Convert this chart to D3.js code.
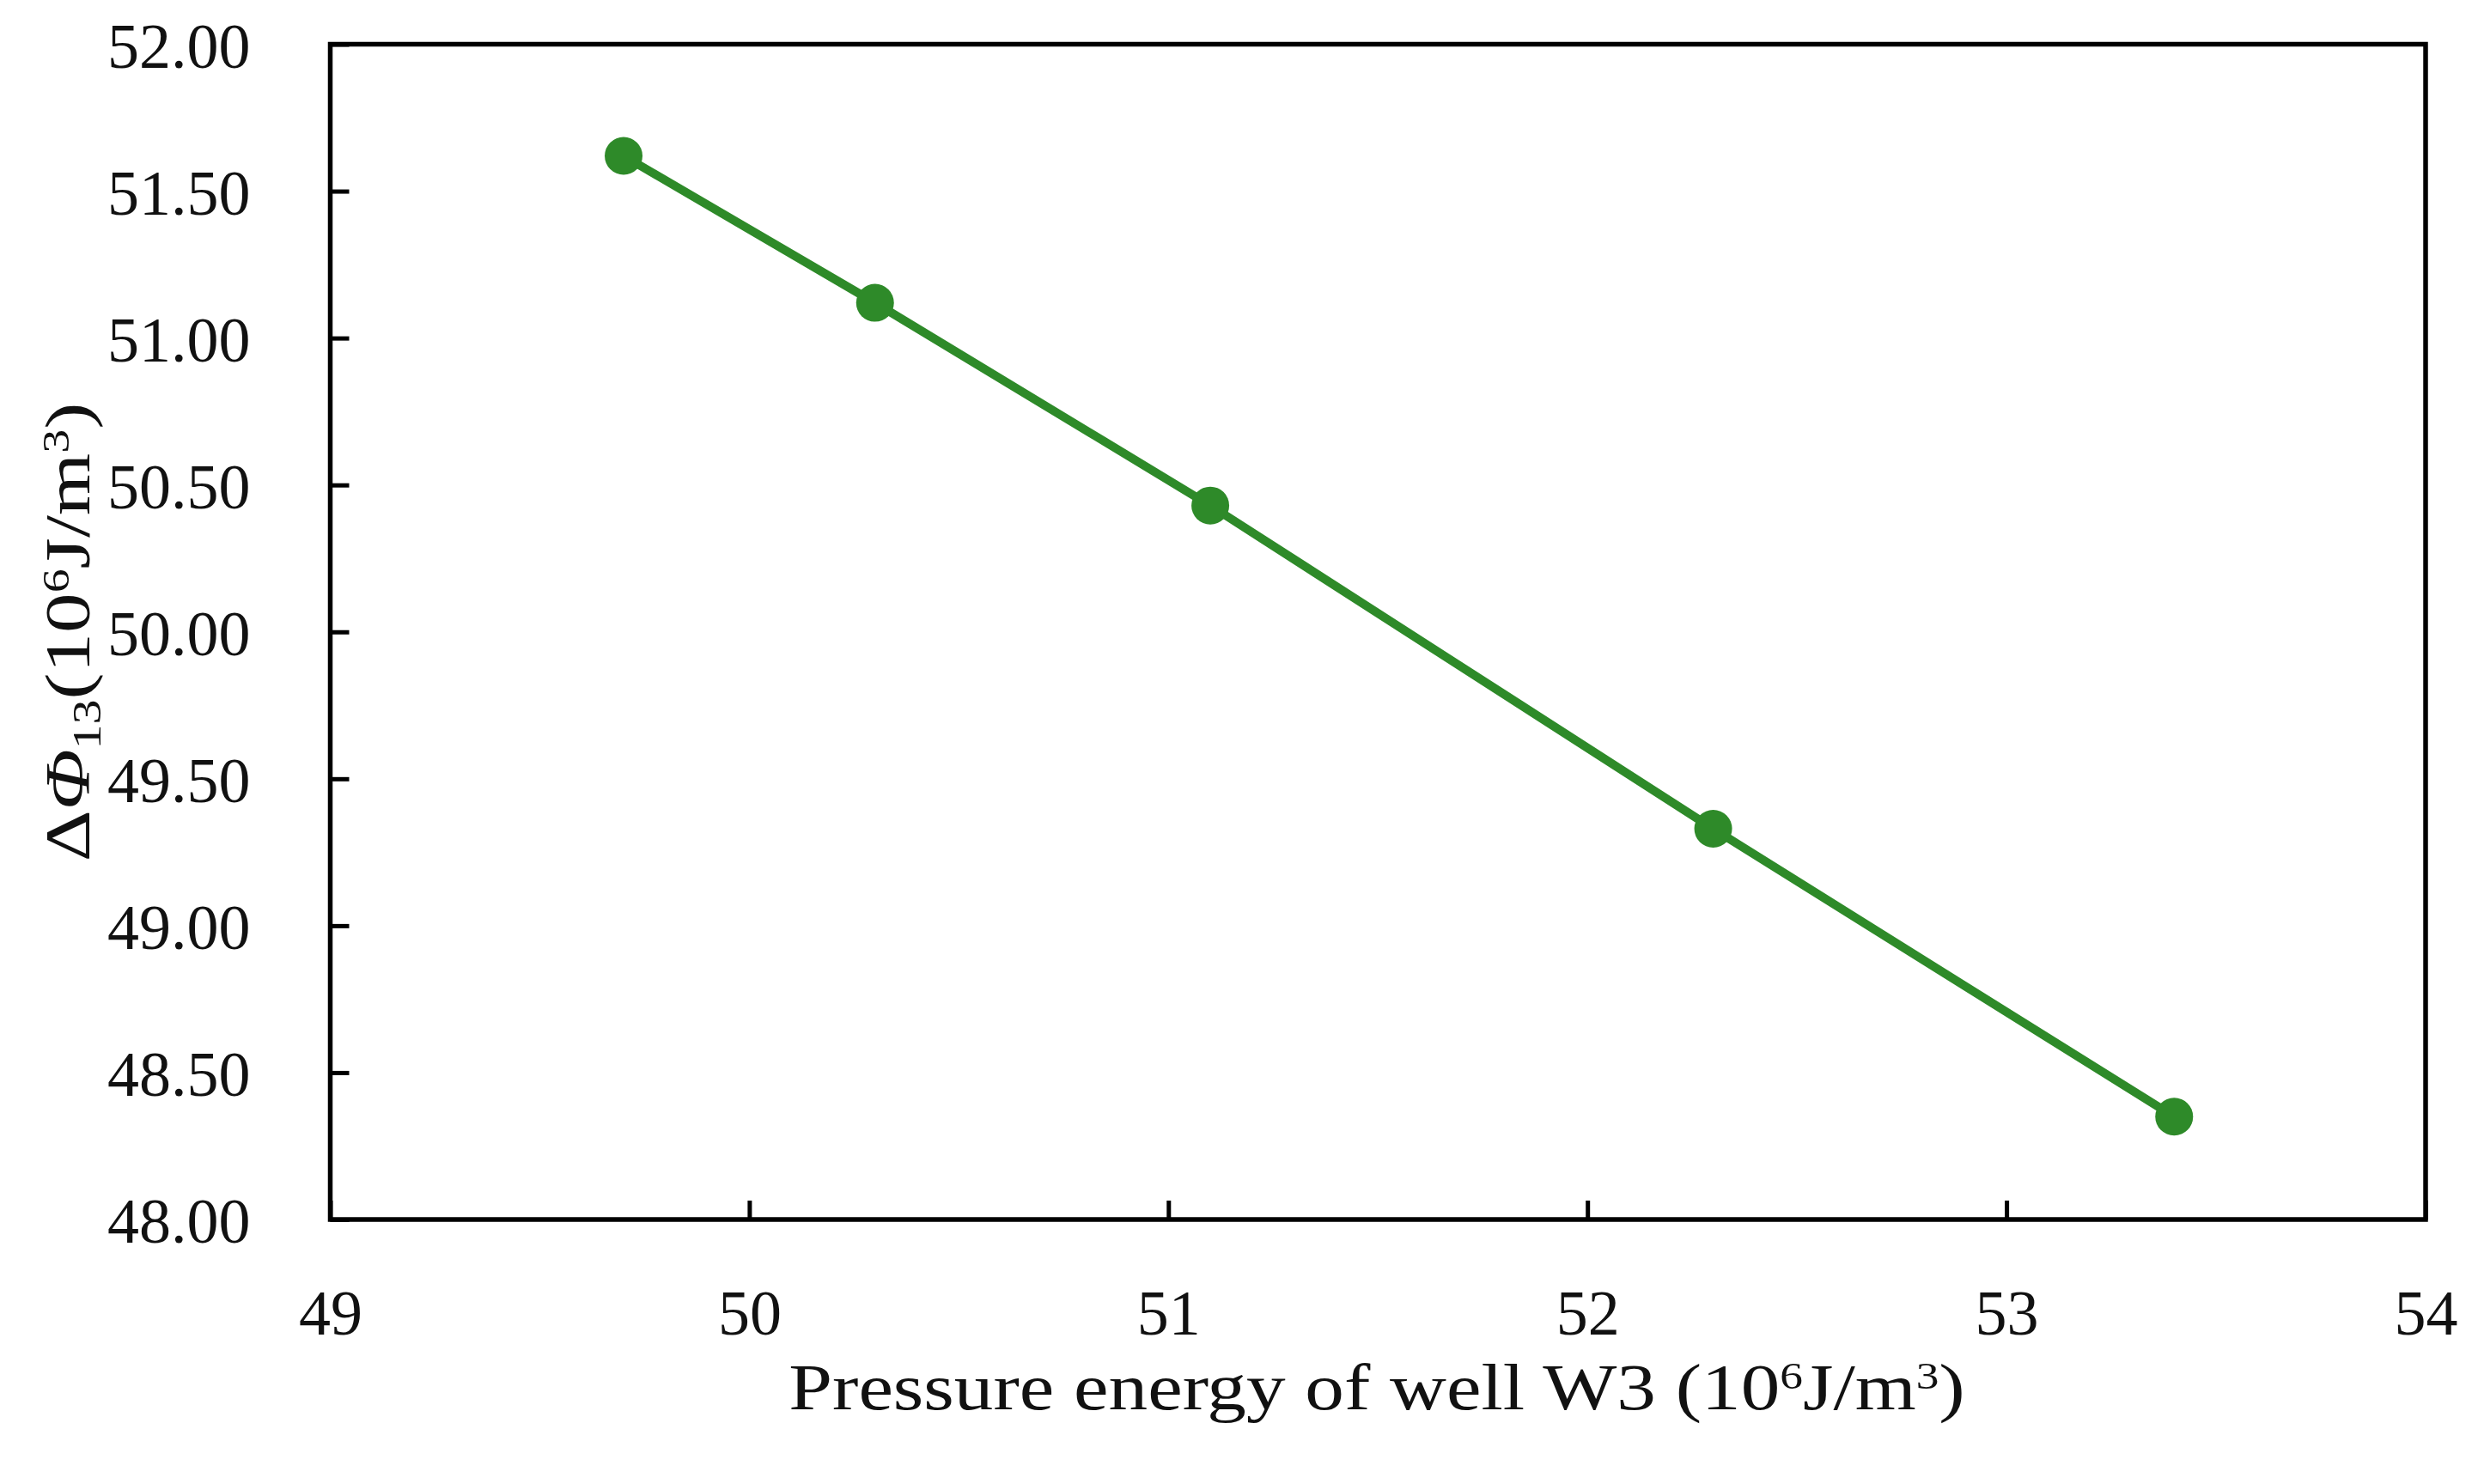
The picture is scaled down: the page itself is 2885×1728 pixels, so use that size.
<!DOCTYPE html>
<html><head><meta charset="utf-8">
<script src="https://cdn.jsdelivr.net/npm/d3@7"></script>
<style>
html,body{margin:0;padding:0;background:#fff;}
svg{display:block;}
text{font-family:"Liberation Serif","Times New Roman",serif;fill:#111;}
</style></head>
<body>
<svg id="chart" width="2885" height="1728"></svg>
<script>
const xValues = [49.7, 50.3, 51.1, 52.3, 53.4];
const yValues = [51.62, 51.12, 50.43, 49.33, 48.35];
const xTicks = [49, 50, 51, 52, 53, 54];
const yTicks = [48.0, 48.5, 49.0, 49.5, 50.0, 50.5, 51.0, 51.5, 52.0];
const lineColor = "#2e8a29";

const W = 2885, H = 1728;
const m = {left: 384.5, right: W - 2824, top: 51.5, bottom: H - 1420};
const svg = d3.select("#chart");
const x = d3.scaleLinear().domain([49, 54]).range([m.left, W - m.right]);
const y = d3.scaleLinear().domain([48, 52]).range([H - m.bottom, m.top]);

const fs = 74;
// frame
svg.append("rect").attr("x", x(49)).attr("y", y(52))
  .attr("width", x(54) - x(49)).attr("height", y(48) - y(52))
  .attr("fill", "none").attr("stroke", "#000").attr("stroke-width", 5.5);

const gx = svg.append("g").attr("transform", `translate(0,${y(48)})`)
  .call(d3.axisBottom(x).tickValues(xTicks).tickFormat(d3.format("d"))
    .tickSize(-22).tickSizeOuter(0).tickPadding(81));
const gy = svg.append("g").attr("transform", `translate(${x(49)},0)`)
  .call(d3.axisLeft(y).tickValues(yTicks).tickFormat(d3.format(".2f"))
    .tickSize(-22).tickSizeOuter(0).tickPadding(93));
[gx, gy].forEach(g => {
  g.select(".domain").remove();
  g.selectAll(".tick line").attr("stroke", "#000").attr("stroke-width", 5);
  g.selectAll(".tick text").attr("font-size", fs).attr("fill", "#111")
    .style("font-family", '"Liberation Serif", serif');
});
gy.selectAll(".tick text").attr("dy", "0.36em");

// line + markers
const pts = xValues.map((v, i) => [v, yValues[i]]);
svg.append("path").datum(pts)
  .attr("fill", "none").attr("stroke", lineColor).attr("stroke-width", 10)
  .attr("d", d3.line().x(d => x(d[0])).y(d => y(d[1])));
svg.selectAll("circle.pt").data(pts).join("circle").attr("class", "pt")
  .attr("cx", d => x(d[0])).attr("cy", d => y(d[1])).attr("r", 22)
  .attr("fill", lineColor);

// x title
const xt = svg.append("text").attr("transform", "translate(1603,1641) scale(1.2,1)")
  .attr("text-anchor", "middle").attr("font-size", fs + 2);
xt.append("tspan").text("Pressure energy of well W3 (10");
xt.append("tspan").attr("font-size", fs * 0.6).attr("dy", -fs * 0.33).text("6");
xt.append("tspan").attr("dy", fs * 0.33).text("J/m");
xt.append("tspan").attr("font-size", fs * 0.6).attr("dy", -fs * 0.33).text("3");
xt.append("tspan").attr("dy", fs * 0.33).text(")");

// y title
const yt = svg.append("text").attr("transform", "translate(104,736) rotate(-90) scale(1.26,1)")
  .attr("text-anchor", "middle").attr("font-size", fs);
yt.append("tspan").text("Δ");
yt.append("tspan").attr("font-style", "italic").text("Φ");
yt.append("tspan").attr("font-size", fs * 0.62).attr("dy", fs * 0.18).text("13");
yt.append("tspan").attr("dy", -fs * 0.18).text("(10");
yt.append("tspan").attr("font-size", fs * 0.6).attr("dy", -fs * 0.33).text("6");
yt.append("tspan").attr("dy", fs * 0.33).text("J/m");
yt.append("tspan").attr("font-size", fs * 0.6).attr("dy", -fs * 0.33).text("3");
yt.append("tspan").attr("dy", fs * 0.33).text(")");
</script>
</body></html>
